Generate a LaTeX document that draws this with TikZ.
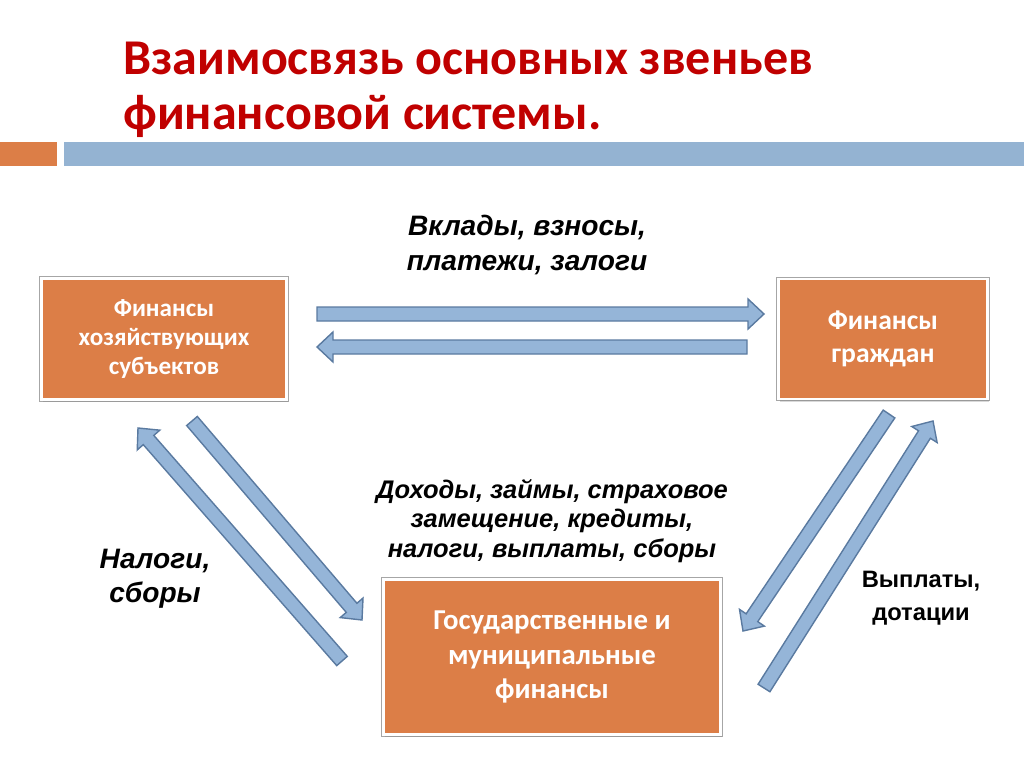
\documentclass[tikz,border=0pt]{standalone}
\usepackage{fontspec}
\setmainfont{Liberation Sans}
\newfontfamily\calib{Carlito}
\usetikzlibrary{calc,positioning,shadows}
\definecolor{finorange}{HTML}{DC7E47}
\definecolor{barblue}{HTML}{94B3D2}
\definecolor{arrfill}{HTML}{95B5D8}
\definecolor{arredge}{HTML}{5A7AA0}
\definecolor{titlered}{HTML}{C00000}
\tikzset{
  finbox/.style={fill=finorange, draw=white, line width=1.2pt,
                 preaction={draw=black!35, line width=2.8pt},
                 drop shadow={opacity=0.3, shadow xshift=1pt, shadow yshift=-1.5pt},
                 align=center, text=white},
  flowlabel/.style={align=center, font=\bfseries\itshape},
  blockarr/.style={fill=arrfill, draw=arredge, line width=0.8pt, line join=miter}}
% wide block arrow from #1 (tail) to #2 (tip)
\newcommand\blockarrow[2]{%
  \draw[blockarr] let \p1=($(#2)-(#1)$), \n1={atan2(\y1,\x1)}, \n2={veclen(\x1,\y1)} in
    ($(#1)+(\n1-90:0.14cm)$) -- ($(#1)+(\n1-90:0.14cm)+(\n1:\n2-0.32cm)$)
    -- ($(#1)+(\n1-90:0.3cm)+(\n1:\n2-0.32cm)$) -- (#2)
    -- ($(#1)+(\n1+90:0.3cm)+(\n1:\n2-0.32cm)$)
    -- ($(#1)+(\n1+90:0.14cm)+(\n1:\n2-0.32cm)$) -- ($(#1)+(\n1+90:0.14cm)$) -- cycle;}

\begin{document}
\begin{tikzpicture}[x=0.02cm, y=-0.02cm]
  \useasboundingbox (0,0) rectangle (1024,767);
  % heading
  \node[anchor=west, align=left, text=titlered, font=\calib\bfseries\fontsize{28.5}{31.5}\selectfont]
    (title) at (117,90) {Взаимосвязь основных звеньев\\финансовой системы.};
  \fill[finorange] (0,142) rectangle (57,166);
  \fill[barblue] (64,142) rectangle (1024,166);

  % the three links
  \node[finbox, minimum width=4.9cm, minimum height=2.42cm,
        font=\calib\bfseries\fontsize{14.3}{16.6}\selectfont] (firms) at (164,339)
    {Финансы\\хозяйствующих\\субъектов};
  \node[finbox, minimum width=4.18cm, minimum height=2.4cm,
        font=\calib\bfseries\fontsize{15.7}{18.7}\selectfont] (people) at (883,339)
    {Финансы\\граждан};
  \node[finbox, minimum width=6.74cm, minimum height=3.1cm,
        font=\calib\bfseries\fontsize{16.4}{19.6}\selectfont] (state) at (552,657)
    {Государственные и\\муниципальные\\финансы};

  % flows
  \coordinate (fp1) at (317,314); \coordinate (fp2) at (764,314);
  \coordinate (pf1) at (747,347); \coordinate (pf2) at (317,347);
  \coordinate (fs1) at (192,421); \coordinate (fs2) at (362,620);
  \coordinate (sf1) at (342,661); \coordinate (sf2) at (138,428);
  \coordinate (ps1) at (889,414); \coordinate (ps2) at (743,631);
  \coordinate (sp1) at (764,688); \coordinate (sp2) at (933,421);
  \blockarrow{fp1}{fp2}
  \blockarrow{pf1}{pf2}
  \blockarrow{fs1}{fs2}
  \blockarrow{sf1}{sf2}
  \blockarrow{ps1}{ps2}
  \blockarrow{sp1}{sp2}

  % labels
  \node[flowlabel, font=\bfseries\itshape\fontsize{16}{19.8}\selectfont] (lbtop) at (527,245)
    {Вклады, взносы,\\платежи, залоги};
  \node[flowlabel, font=\bfseries\itshape\fontsize{14.5}{16.8}\selectfont] (lbmid) at (552,521)
    {Доходы, займы, страховое\\замещение, кредиты,\\налоги, выплаты, сборы};
  \node[flowlabel, font=\bfseries\itshape\fontsize{16}{19.3}\selectfont] (lbleft) at (155,579)
    {Налоги,\\сборы};
  \node[align=center, font=\bfseries\fontsize{13.5}{18.7}\selectfont] (lbright) at (921,598)
    {Выплаты,\\дотации};
\end{tikzpicture}
\end{document}
